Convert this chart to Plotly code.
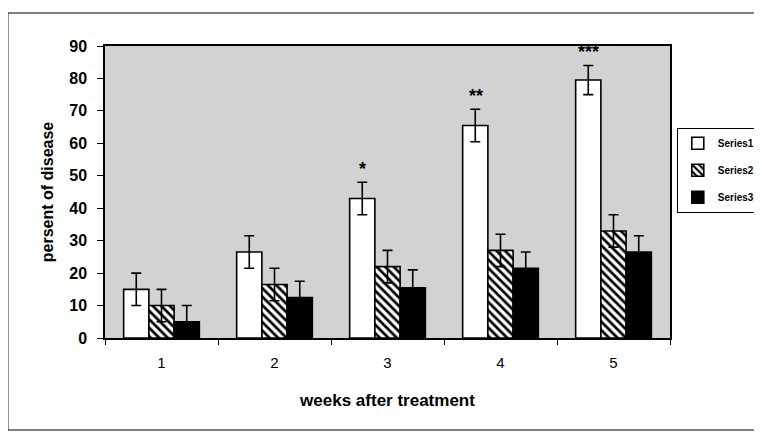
import plotly.graph_objects as go

weeks = ["1", "2", "3", "4", "5"]
series1 = [15, 26.5, 43, 65.5, 79.5]
series2 = [10, 16.5, 22, 27, 33]
series3 = [5, 12.5, 15.5, 21.5, 26.5]
err1 = [5, 5, 5, 5, 4.5]
err2 = [5, 5, 5, 5, 5]
err3 = [5, 5, 5.5, 5, 5]
sig_labels = ["", "", "*", "**", "***"]
series_names = ["Series1", "Series2", "Series3"]

FONT = "Liberation Sans"

fig = go.Figure()
common_err = dict(type="data", color="black", thickness=1.6, width=5, visible=True)
fig.add_trace(go.Bar(
    x=weeks, y=series1, name=series_names[0], legendgroup="a",
    marker=dict(color="white", line=dict(color="black", width=1.6)),
    error_y=dict(array=err1, **common_err),
))
fig.add_trace(go.Bar(
    x=weeks, y=series2, name=series_names[1], legendgroup="b",
    marker=dict(color="white", line=dict(color="black", width=1.6),
                pattern=dict(shape="\\", fgcolor="black", bgcolor="white",
                             size=6, solidity=0.45, fillmode="replace")),
    error_y=dict(array=err2, **common_err),
))
fig.add_trace(go.Bar(
    x=weeks, y=series3, name=series_names[2], legendgroup="c",
    marker=dict(color="black", line=dict(color="black", width=1.6)),
    error_y=dict(array=err3, **common_err),
))

for i, (v, e, lab) in enumerate(zip(series1, err1, sig_labels)):
    if lab:
        fig.add_annotation(
            x=i, y=v + e, text=lab, showarrow=False, xshift=-25, yshift=1,
            yanchor="bottom", font=dict(family=FONT, size=18, color="black", weight="bold"),
        )

# outer chart frame
fig.add_shape(type="rect", xref="paper", yref="paper",
              x0=-0.172, x1=1.25, y0=-0.315, y1=1.113,
              line=dict(color="black", width=1.2))

fig.update_layout(
    width=780, height=434,
    margin=dict(l=97, r=118, t=38, b=104, autoexpand=False),
    paper_bgcolor="white",
    plot_bgcolor="#d2d2d2",
    barmode="group", bargap=0.33, bargroupgap=0,
    font=dict(family=FONT, color="black"),
    showlegend=True,
    legend=dict(
        x=1.012, y=0.72, xanchor="left", yanchor="top",
        bgcolor="white", bordercolor="black", borderwidth=1,
        font=dict(family=FONT, size=10, weight="bold"),
        tracegroupgap=8, itemwidth=30,
    ),
    xaxis=dict(
        type="category", range=[-0.5, 4.5], automargin=False,
        tickson="boundaries", ticks="outside", ticklen=5,
        tickcolor="black", showline=True, linecolor="black", linewidth=1.5,
        mirror=True, showgrid=False, ticklabelstandoff=10,
        tickfont=dict(family=FONT, size=15),
        title=dict(text="weeks after treatment", standoff=24,
                   font=dict(family=FONT, size=17, weight="bold")),
    ),
    yaxis=dict(
        range=[0, 90], dtick=10, ticks="outside", ticklen=6, tickcolor="black",
        showline=True, linecolor="black", linewidth=1.5, mirror=True,
        showgrid=False, zeroline=False, automargin=False, ticklabelstandoff=7,
        tickfont=dict(family=FONT, size=16, weight="bold"),
        title=dict(text="persent of disease", standoff=12,
                   font=dict(family=FONT, size=16, weight="bold")),
    ),
)

fig.write_html("out.html")
